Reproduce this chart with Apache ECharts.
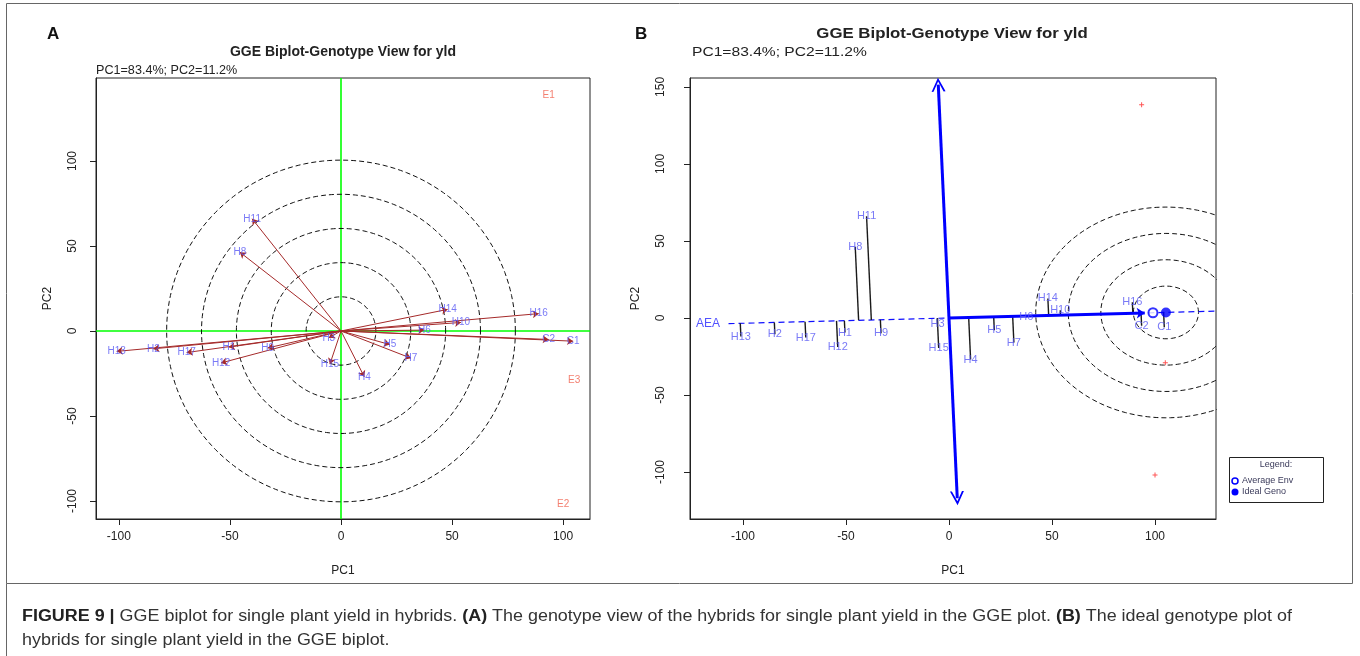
<!DOCTYPE html>
<html>
<head>
<meta charset="utf-8">
<script src="https://cdn.jsdelivr.net/npm/echarts@6/dist/echarts.min.js"></script>
<style>
  html, body { margin: 0; padding: 0; background: #fff; }
  #chart { width: 1360px; height: 656px; }
</style>
</head>
<body>
<div id="chart"></div>
<script>
// genotype scores (PC1, PC2)
const genotypes = ["H1", "H2", "H3", "H4", "H5", "H6", "H7", "H8", "H9", "H10", "H11", "H12", "H13", "H14", "H15", "H16", "H17", "C1", "C2"];
const genoPc1 = [-50.5, -84.5, -5.5, 10.5, 22, 37.5, 31.5, -45.5, -33, 54, -40, -54, -101, 48, -5, 89, -69.5, 104.5, 93.5];
const genoPc2 = [-9.5, -10.5, -4, -27, -8, 0.5, -16, 46.3, -10, 5, 66, -18.8, -12, 12.7, -19.5, 10.2, -12.7, -6, -5];

// environment scores
const environments = ["E1", "E2", "E3"];
const envPc1 = [93.5, 100, 105];
const envPc2 = [138.5, -102, -29];

// panel B reference points
const averageEnv = [99, 3.4];
const idealGeno = [105.3, 3.6];
const aeaRange = [-107, 140];     // extent of the dashed AEA line along PC1
const atcRange = [151.5, -117];   // extent of the vertical ATC arrows along PC2

// concentric rings: step in PC1 and PC2 units
const ringStepA = [15.7, 20.1];
const ringsA = [1, 2, 3, 4, 5];
const ringStepB = [15.8, 17.1];
const ringsB = [1, 2, 3, 4];

const ticksX = [-100, -50, 0, 50, 100];
const ticksYA = [-100, -50, 0, 50, 100];
const ticksYB = [-100, -50, 0, 50, 100, 150];

const FONT = "'Liberation Sans', Arial, sans-serif";
const LABEL_BLUE = "#5858f4";
const BROWN = "#a52a2a";
const OPEN_ARROW = "path://M0,10L5,0L10,10L8.6,10L5,2.8L1.4,10Z";

const boundsA = { x: [-110.3, 112.1], y: [-110.6, 148.8] };
const boundsB = { x: [-125.7, 129.6], y: [-130.5, 155.8] };

function ellipse(cx, cy, rx, ry) {
  const pts = [];
  for (let i = 0; i <= 180; i++) {
    const a = (i / 180) * Math.PI * 2;
    pts.push([cx + rx * Math.cos(a), cy + ry * Math.sin(a)]);
  }
  return pts;
}

function ringSeries(axisIndex, center, step, rings) {
  return rings.map((k) => ({
    type: "line",
    xAxisIndex: axisIndex,
    yAxisIndex: axisIndex,
    data: ellipse(center[0], center[1], step[0] * k, step[1] * k),
    symbol: "none",
    silent: true,
    clip: true,
    lineStyle: { color: "#111", width: 1, type: [5, 3] },
    z: 2,
  }));
}

function xAxis(gridIndex, bounds, nameGap) {
  return {
    type: "value", gridIndex, min: bounds.x[0], max: bounds.x[1],
    name: "PC1", nameLocation: "middle", nameGap,
    nameTextStyle: { color: "#222", fontSize: 12, fontFamily: FONT },
    axisLine: { show: true, onZero: false, lineStyle: { color: "#222" } },
    axisTick: { show: true, length: 6, customValues: ticksX, lineStyle: { color: "#222" } },
    axisLabel: { customValues: ticksX, color: "#222", fontSize: 12, fontFamily: FONT, margin: 12 },
    splitLine: { show: false },
  };
}

function yAxis(gridIndex, bounds, ticks, nameGap, margin) {
  return {
    type: "value", gridIndex, min: bounds.y[0], max: bounds.y[1],
    name: "PC2", nameLocation: "middle", nameGap,
    nameTextStyle: { color: "#222", fontSize: 12, fontFamily: FONT },
    axisLine: { show: true, onZero: false, lineStyle: { color: "#222" } },
    axisTick: { show: true, length: 6, customValues: ticks, lineStyle: { color: "#222" } },
    axisLabel: { customValues: ticks, color: "#222", fontSize: 12, fontFamily: FONT, rotate: 90, margin },
    splitLine: { show: false },
  };
}

const genoPoints = genotypes.map((g, i) => ({ name: g, value: [genoPc1[i], genoPc2[i]] }));
const envPoints = environments.map((e, i) => ({ name: e, value: [envPc1[i], envPc2[i]] }));

// slope of the average-environment axis
const slope = averageEnv[1] / averageEnv[0];
function project(x, y) {
  const t = (x + slope * y) / (1 + slope * slope);
  return [t, slope * t];
}

function labelSeries(axisIndex, data, color, size) {
  return {
    type: "scatter", xAxisIndex: axisIndex, yAxisIndex: axisIndex,
    data, symbolSize: 0, silent: true, z: 6,
    itemStyle: { color: "transparent" },
    label: { show: true, position: "inside", formatter: "{b}", color, fontSize: size, fontFamily: FONT },
  };
}

const seriesA = [
  {
    type: "lines", coordinateSystem: "cartesian2d", xAxisIndex: 0, yAxisIndex: 0,
    silent: true, z: 1, symbol: ["none", "none"],
    lineStyle: { color: "#00ff00", width: 1.6, opacity: 1 },
    data: [
      { coords: [[boundsA.x[0], 0], [boundsA.x[1], 0]] },
      { coords: [[0, boundsA.y[0]], [0, boundsA.y[1]]] },
    ],
  },
  ...ringSeries(0, [0, 0], ringStepA, ringsA),
  {
    type: "lines", coordinateSystem: "cartesian2d", xAxisIndex: 0, yAxisIndex: 0,
    silent: true, z: 4,
    symbol: ["none", "arrow"], symbolSize: 6,
    lineStyle: { color: BROWN, width: 1, opacity: 1 },
    data: genotypes.map((g, i) => ({ coords: [[0, 0], [genoPc1[i], genoPc2[i]]] })),
  },
  labelSeries(0, genoPoints, LABEL_BLUE, 10),
  labelSeries(0, envPoints, "#f0604e", 10),
];

const seriesB = [
  ...ringSeries(1, idealGeno, ringStepB, ringsB),
  {
    type: "line", xAxisIndex: 1, yAxisIndex: 1, symbol: "none", silent: true, clip: true, z: 3,
    lineStyle: { color: "#1010ff", width: 1.2, type: [6, 4] },
    data: aeaRange.map((x) => [x, slope * x]),
  },
  {
    type: "lines", coordinateSystem: "cartesian2d", xAxisIndex: 1, yAxisIndex: 1,
    silent: true, z: 4, symbol: ["none", "none"],
    lineStyle: { color: "#1a1a1a", width: 1.4, opacity: 1 },
    data: genotypes.map((g, i) => ({ coords: [[genoPc1[i], genoPc2[i]], project(genoPc1[i], genoPc2[i])] })),
  },
  {
    type: "lines", coordinateSystem: "cartesian2d", xAxisIndex: 1, yAxisIndex: 1,
    silent: true, z: 5, symbol: [OPEN_ARROW, OPEN_ARROW], symbolSize: 14,
    lineStyle: { color: "#0000ff", width: 3, opacity: 1 },
    itemStyle: { color: "#0000ff" },
    data: [{ coords: [[-slope * atcRange[0], atcRange[0]], [-slope * atcRange[1], atcRange[1]]] }],
  },
  {
    type: "lines", coordinateSystem: "cartesian2d", xAxisIndex: 1, yAxisIndex: 1,
    silent: true, z: 5, symbol: ["none", "arrow"], symbolSize: 8,
    lineStyle: { color: "#0000ff", width: 3, opacity: 1 },
    data: [{ coords: [[0, 0], [averageEnv[0] - 4, averageEnv[1] - 4 * slope]] }],
  },
  {
    type: "scatter", xAxisIndex: 1, yAxisIndex: 1, silent: true, z: 7,
    symbol: "circle", symbolSize: 9,
    itemStyle: { color: "#fff", borderColor: "#0000ff", borderWidth: 2 },
    data: [averageEnv],
  },
  {
    type: "scatter", xAxisIndex: 1, yAxisIndex: 1, silent: true, z: 7,
    symbol: "circle", symbolSize: 10,
    itemStyle: { color: "#0000ff" },
    data: [idealGeno],
  },
  {
    type: "scatter", xAxisIndex: 1, yAxisIndex: 1, silent: true, z: 6,
    symbol: "path://M2,0H3V2H5V3H3V5H2V3H0V2H2Z", symbolSize: 5,
    itemStyle: { color: "#ff2a2a" },
    data: envPc1.map((x, i) => [x, envPc2[i]]),
  },
  labelSeries(1, genoPoints, LABEL_BLUE, 11),
  labelSeries(1, [{ name: "AEA", value: [aeaRange[0] - 10, slope * (aeaRange[0] - 10)] }], "#2525ff", 12),
];

const captionLine1 = "{b|FIGURE 9 |} GGE biplot for single plant yield in hybrids. {b|(A)} The genotype view of the hybrids for single plant yield in the GGE plot. {b|(B)} The ideal genotype plot of";
const captionLine2 = "hybrids for single plant yield in the GGE biplot.";

const chart = echarts.init(document.getElementById("chart"), null, { renderer: "canvas" });
chart.setOption({
  animation: false,
  backgroundColor: "#fff",
  grid: [
    { left: 96, top: 78, width: 494, height: 441, show: true, borderColor: "#222", borderWidth: 1, backgroundColor: "transparent" },
    { left: 690, top: 78, width: 526, height: 441, show: true, borderColor: "#222", borderWidth: 1, backgroundColor: "transparent" },
  ],
  xAxis: [xAxis(0, boundsA, 46), xAxis(1, boundsB, 46)],
  yAxis: [yAxis(0, boundsA, ticksYA, 42, 17), yAxis(1, boundsB, ticksYB, 48, 23)],
  series: [...seriesA, ...seriesB],
  graphic: [
    { type: "rect", shape: { x: 6.5, y: 3.5, width: 1346, height: 580 }, style: { fill: "none", stroke: "#666", lineWidth: 1 }, silent: true },
    { type: "line", shape: { x1: 6.5, y1: 583.5, x2: 6.5, y2: 656 }, style: { stroke: "#666", lineWidth: 1 }, silent: true },
    { type: "text", left: 47, top: 26, style: { text: "A", font: "bold 17px " + FONT, fill: "#111" } },
    { type: "text", left: 635, top: 26, style: { text: "B", font: "bold 17px " + FONT, fill: "#111" } },
    { type: "text", x: 343, y: 52, style: { text: "GGE Biplot-Genotype View for yld", font: "bold 14px " + FONT, fill: "#222", align: "center", verticalAlign: "middle" } },
    { type: "text", x: 952, y: 34, scaleX: 1.12, style: { text: "GGE Biplot-Genotype View for yld", font: "bold 15px " + FONT, fill: "#222", align: "center", verticalAlign: "middle" } },
    { type: "text", x: 96, y: 71, scaleX: 1.05, style: { text: "PC1=83.4%; PC2=11.2%", font: "12px " + FONT, fill: "#222", verticalAlign: "middle" } },
    { type: "text", x: 692, y: 53, scaleX: 1.3, style: { text: "PC1=83.4%; PC2=11.2%", font: "12px " + FONT, fill: "#222", verticalAlign: "middle" } },
    {
      type: "group", left: 1229, top: 457,
      children: [
        { type: "rect", shape: { x: 0.5, y: 0.5, width: 94, height: 45 }, style: { fill: "#fff", stroke: "#222", lineWidth: 1 } },
        { type: "text", x: 47, y: 8, style: { text: "Legend:", font: "9px " + FONT, fill: "#3a3a5a", align: "center", verticalAlign: "middle" } },
        { type: "circle", shape: { cx: 6, cy: 24, r: 3 }, style: { fill: "#fff", stroke: "#0000ff", lineWidth: 1.5 } },
        { type: "text", x: 13, y: 24, style: { text: "Average Env", font: "9px " + FONT, fill: "#3a3a5a", verticalAlign: "middle" } },
        { type: "circle", shape: { cx: 6, cy: 35, r: 3.5 }, style: { fill: "#0000ff" } },
        { type: "text", x: 13, y: 35, style: { text: "Ideal Geno", font: "9px " + FONT, fill: "#3a3a5a", verticalAlign: "middle" } },
      ],
    },
    {
      type: "text", x: 22, y: 617, scaleX: 1.12,
      style: {
        text: captionLine1, font: "16px " + FONT, fill: "#333", verticalAlign: "middle",
        rich: { b: { font: "bold 16px " + FONT, fill: "#222" } },
      },
    },
    { type: "text", x: 22, y: 641, scaleX: 1.12, style: { text: captionLine2, font: "16px " + FONT, fill: "#333", verticalAlign: "middle" } },
  ],
});
</script>
</body>
</html>
